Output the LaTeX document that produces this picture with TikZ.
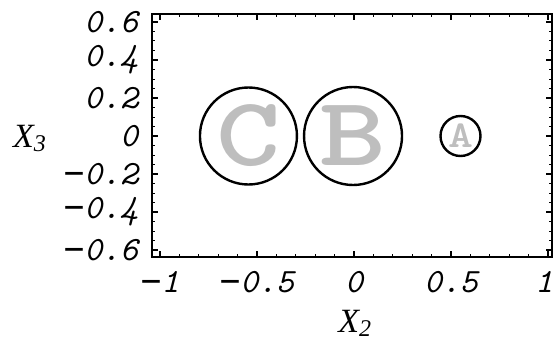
\documentclass[tikz,border=0pt]{standalone}
\usepackage{fontspec}
\usepackage{xcolor}
\usepackage{tikz}
\usetikzlibrary{positioning}
\newfontfamily\axisfont{Liberation Serif}
\newfontfamily\minusfont{DejaVu Sans Mono}
\newcommand\mns{{\upshape\minusfont\char"2212}}
\definecolor{lettergray}{HTML}{BEBEBE}

\begin{document}
\begin{tikzpicture}[x={(194pt,0)},y={(0,190pt)}]
  \tikzset{ball/.style={draw,line width=2.4pt,circle,inner sep=0pt,minimum size=#1,text=lettergray},
    ticklabel/.style={font=\fontsize{34}{36}\selectfont\ttfamily\itshape,inner sep=0pt},
    axislabel/.style={font=\fontsize{34}{36}\selectfont\axisfont\itshape,inner sep=0pt}}%

  \useasboundingbox (-1.8247,-1.0842) rectangle (1.0361,0.7158);
  \draw[line width=2.4pt] (-1.041,-0.637) rectangle (1.021,0.642);

  % ticks on the frame
  \foreach \i in {-10,...,10} {
    \draw[line width=1pt] ({\i/10},-0.637) -- ++(0,3pt);
    \draw[line width=1pt] ({\i/10},0.642) -- ++(0,-3pt);
  }
  \foreach \x in {-1,-0.5,0,0.5,1} {
    \draw[line width=1.2pt] (\x,-0.637) -- ++(0,6pt);
    \draw[line width=1.2pt] (\x,0.642) -- ++(0,-6pt);
  }
  \foreach \j in {-12,...,12} {
    \draw[line width=1pt] (-1.041,{\j/20}) -- ++(3pt,0);
    \draw[line width=1pt] (1.021,{\j/20}) -- ++(-3pt,0);
  }
  \foreach \y in {-0.6,-0.4,-0.2,0,0.2,0.4,0.6} {
    \draw[line width=1.2pt] (-1.041,\y) -- ++(6pt,0);
    \draw[line width=1.2pt] (1.021,\y) -- ++(-6pt,0);
  }

  % tick labels
  \foreach \x/\t [count=\k] in {-1/\mns1,-0.5/\mns0.5,0/0,0.5/0.5,0.98/1}
    \node[ticklabel] (xl\k) at (\x,-0.768) {\t};
  \foreach \y/\t [count=\k] in {-0.6/\mns0.6,-0.4/\mns0.4,-0.2/\mns0.2,0/0,0.2/0.2,0.4/0.4,0.6/0.6}
    \node[ticklabel,anchor=east] (yl\k) at (-1.113,\y) {\t};

  \node[axislabel,anchor=base west] (xtwo) at (-0.082,-1.032)
    {X\raisebox{-4pt}{\fontsize{24}{24}\selectfont 2}};
  \node[axislabel,anchor=base west] (xthree) at (-1.758,-0.058)
    {X\raisebox{-4pt}{\fontsize{24}{24}\selectfont 3}};

  % the three balls
  \node[ball=97pt,font=\fontsize{98}{98}\selectfont\ttfamily\bfseries] (C) at (-0.544,0) {\scalebox{1.25}[1]{C}};
  \node[ball=98pt,font=\fontsize{98}{98}\selectfont\ttfamily\bfseries] (B) at (-0.005,0) {\scalebox{1.3}[1]{B}};
  \node[ball=40pt,font=\fontsize{38}{38}\selectfont\ttfamily\bfseries] (A) at (0.549,0) {\scalebox{1.25}[1]{A}};
\end{tikzpicture}
\end{document}
